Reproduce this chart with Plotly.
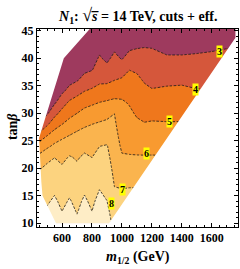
import numpy as np
import plotly.graph_objects as go

# ---------------- data ----------------
m_half = [430, 500, 550, 600, 650, 700, 750, 800, 850, 900, 950, 1000,
          1050, 1100, 1150, 1200, 1300, 1400, 1500, 1600, 1700, 1780]
tan_beta = [10, 12, 14, 16, 18, 20, 22, 24, 26, 28, 30, 32, 34, 36, 38, 40, 42, 44, 46]

# significance N1 per m_1/2 column (rows follow tan_beta)
sig_m430 = [8.68, 8.38, 8.08, 7.70, 7.30, 6.82, 6.11, 5.23, 4.01, 2.93, 2.63, 2.33, 2.10, 2.10, 2.10, 2.10, 2.10, 2.10, 2.10]
sig_m500 = [8.45, 8.15, 7.88, 7.65, 7.41, 7.18, 6.75, 5.80, 4.95, 3.83, 2.85, 2.55, 2.25, 2.10, 2.10, 2.10, 2.10, 2.10, 2.10]
sig_m550 = [8.75, 8.45, 8.15, 7.86, 7.57, 7.29, 6.98, 6.20, 5.40, 4.60, 3.67, 2.85, 2.55, 2.25, 2.10, 2.10, 2.10, 2.10, 2.10]
sig_m600 = [8.30, 8.02, 7.78, 7.56, 7.33, 7.11, 6.78, 6.33, 5.80, 4.98, 4.33, 3.50, 2.85, 2.55, 2.25, 2.10, 2.10, 2.10, 2.10]
sig_m650 = [8.68, 8.38, 8.08, 7.81, 7.56, 7.31, 7.06, 6.57, 5.99, 5.33, 4.71, 4.14, 3.25, 2.78, 2.48, 2.18, 2.10, 2.10, 2.10]
sig_m700 = [8.23, 7.95, 7.75, 7.55, 7.35, 7.15, 6.91, 6.55, 6.18, 5.67, 4.99, 4.39, 3.68, 2.93, 2.63, 2.33, 2.10, 2.10, 2.10]
sig_m750 = [8.75, 8.45, 8.15, 7.88, 7.63, 7.38, 7.13, 6.78, 6.33, 5.86, 5.29, 4.67, 3.99, 3.29, 2.82, 2.52, 2.22, 2.10, 2.10]
sig_m800 = [8.30, 8.02, 7.80, 7.60, 7.40, 7.20, 6.99, 6.67, 6.33, 5.99, 5.43, 4.83, 4.17, 3.50, 2.93, 2.63, 2.33, 2.10, 2.10]
sig_m850 = [8.90, 8.60, 8.30, 8.01, 7.75, 7.50, 7.25, 6.99, 6.56, 6.11, 5.57, 4.99, 4.33, 3.82, 3.45, 3.09, 2.78, 2.48, 2.18]
sig_m900 = [8.60, 8.30, 8.01, 7.81, 7.62, 7.43, 7.24, 7.05, 6.67, 6.22, 5.70, 5.09, 4.43, 3.80, 3.23, 2.82, 2.52, 2.22, 2.10]
sig_m950 = [7.60, 7.42, 7.23, 7.05, 6.89, 6.74, 6.59, 6.44, 6.30, 6.15, 5.99, 5.20, 4.57, 3.99, 3.60, 3.20, 2.85, 2.55, 2.25]
sig_m1000 = [8.15, 7.81, 7.42, 7.04, 6.71, 6.40, 6.08, 5.86, 5.67, 5.48, 5.29, 5.10, 4.71, 4.14, 3.50, 2.93, 2.63, 2.33, 2.10]
sig_m1050 = [8.54, 8.24, 7.85, 7.08, 6.71, 6.39, 6.06, 5.82, 5.60, 5.38, 5.16, 4.92, 4.61, 4.30, 3.97, 3.32, 2.85, 2.55, 2.25]
sig_m1100 = [8.54, 8.24, 7.85, 7.08, 6.71, 6.39, 6.06, 5.76, 5.46, 5.16, 4.89, 4.65, 4.42, 4.18, 3.88, 3.39, 2.94, 2.64, 2.34]
sig_m1150 = [8.54, 8.24, 7.85, 7.08, 6.71, 6.39, 6.06, 5.73, 5.39, 5.05, 4.76, 4.49, 4.21, 3.92, 3.62, 3.31, 2.99, 2.70, 2.40]
sig_m1200 = [8.54, 8.24, 7.85, 7.08, 6.71, 6.39, 6.06, 5.74, 5.42, 5.10, 4.76, 4.41, 4.07, 3.78, 3.51, 3.24, 2.97, 2.67, 2.37]
sig_m1300 = [8.54, 8.24, 7.85, 7.08, 6.71, 6.39, 6.06, 5.73, 5.40, 5.07, 4.76, 4.45, 4.15, 3.82, 3.45, 3.09, 2.78, 2.48, 2.18]
sig_m1400 = [8.54, 8.24, 7.85, 7.08, 6.71, 6.39, 6.06, 5.73, 5.40, 5.07, 4.76, 4.47, 4.18, 3.85, 3.47, 3.09, 2.78, 2.48, 2.18]
sig_m1500 = [8.54, 8.24, 7.85, 7.08, 6.71, 6.39, 6.06, 5.73, 5.40, 5.07, 4.73, 4.40, 4.07, 3.75, 3.44, 3.13, 2.82, 2.52, 2.22]
sig_m1600 = [8.54, 8.24, 7.85, 7.08, 6.71, 6.39, 6.06, 5.73, 5.40, 5.07, 4.73, 4.40, 4.07, 3.76, 3.47, 3.18, 2.88, 2.58, 2.28]
sig_m1700 = [8.54, 8.24, 7.85, 7.08, 6.71, 6.39, 6.06, 5.73, 5.40, 5.07, 4.74, 4.41, 4.08, 3.79, 3.51, 3.24, 2.96, 2.66, 2.36]
sig_m1780 = [8.54, 8.24, 7.85, 7.08, 6.71, 6.39, 6.06, 5.73, 5.40, 5.07, 4.74, 4.41, 4.08, 3.80, 3.53, 3.27, 3.01, 2.70, 2.40]

# boundary of the scanned parameter region
domain_m = [447, 452, 462, 470, 560, 914, 1758, 1758, 785, 612]
domain_tan = [25.5, 21.8, 17.5, 15.0, 10.0, 10.0, 43.7, 45.3, 45.3, 40.0]

# contour levels and their labels
level_text = ["3", "4", "5", "6", "7", "8"]
label_m = [1652, 1493, 1315, 1167, 1006, 933]
label_tan = [41.2, 34.3, 28.4, 22.6, 16.2, 13.6]

x_ticks = [600, 800, 1000, 1200, 1400, 1600]
y_ticks = [10, 15, 20, 25, 30, 35, 40, 45]
x_range = [433, 1775]
y_range = [9.3, 45.3]

band_colors = ["#9E3A5E", "#D5573B", "#EF771C", "#F89A30", "#FAB44E", "#FCD37F", "#FEEDC6"]

# ---------------- figure ----------------
columns = [sig_m430, sig_m500, sig_m550, sig_m600, sig_m650, sig_m700, sig_m750,
           sig_m800, sig_m850, sig_m900, sig_m950, sig_m1000, sig_m1050, sig_m1100,
           sig_m1150, sig_m1200, sig_m1300, sig_m1400, sig_m1500, sig_m1600,
           sig_m1700, sig_m1780]
z = np.array(columns).T

c = band_colors
cscale = [[0, c[0]], [1/6, c[0]], [1/6, c[1]], [2/6, c[1]], [2/6, c[2]], [3/6, c[2]],
          [3/6, c[3]], [4/6, c[3]], [4/6, c[4]], [5/6, c[4]], [5/6, c[5]], [0.95, c[5]],
          [0.95, c[6]], [1, c[6]]]

fig = go.Figure()
fig.add_trace(go.Contour(
    x=m_half, y=tan_beta, z=z,
    autocontour=False,
    contours=dict(start=3, end=8, size=1, coloring="fill", showlines=True),
    colorscale=cscale, showscale=False,
    line=dict(color="#1a1a1a", width=0.8, dash="2.5px,1.5px", smoothing=0),
    hoverinfo="skip",
))

# white mask outside the scanned region (rectangle with a hole)
dm = domain_m[::-1]
dt = domain_tan[::-1]
mask_x = [x_range[0], x_range[1], x_range[1], x_range[0], x_range[0]] + dm + [dm[0], x_range[0]]
mask_y = [y_range[0], y_range[0], y_range[1], y_range[1], y_range[0]] + dt + [dt[0], y_range[0]]
fig.add_trace(go.Scatter(x=mask_x, y=mask_y, mode="lines", fill="toself",
                         fillcolor="white", line=dict(width=0, color="white"),
                         hoverinfo="skip"))

serif = "Liberation Serif"
for t, lm, lt in zip(level_text, label_m, label_tan):
    fig.add_annotation(x=lm, y=lt, text="<b>%s</b>" % t, showarrow=False,
                       bgcolor="#FFFF00", borderpad=0,
                       font=dict(family=serif, size=10, color="black"))

axis_common = dict(ticks="inside", ticklen=4, tickwidth=0.8, tickcolor="black",
                   mirror="allticks", showline=True, linecolor="black", linewidth=1,
                   showgrid=False, zeroline=False,
                   tickfont=dict(family=serif, size=12, color="black", weight="bold"))

fig.update_xaxes(range=x_range, tickvals=x_ticks, **axis_common,
                 minor=dict(ticks="inside", ticklen=2, dtick=50, tick0=0,
                            tickcolor="black", tickwidth=0.6, showgrid=False))
fig.update_yaxes(range=y_range, tickvals=y_ticks, **axis_common,
                 minor=dict(ticks="inside", ticklen=2, dtick=1, tick0=0,
                            tickcolor="black", tickwidth=0.6, showgrid=False))

fig.add_annotation(xref="paper", yref="paper", x=0.5, y=1, yshift=14,
                   xanchor="center", yanchor="middle", showarrow=False,
                   text="<b><i>N</i><sub>1</sub>: <span style='font-size:18px'>√</span><i>s̅</i> = 14 TeV, cuts + eff.</b>",
                   font=dict(family=serif, size=14, color="black"))
fig.add_annotation(xref="paper", yref="paper", x=0.5, y=0, yshift=-30,
                   xanchor="center", yanchor="middle", showarrow=False,
                   text="<b><i>m</i><sub>1/2</sub> (GeV)</b>",
                   font=dict(family=serif, size=14, color="black"))
fig.add_annotation(xref="paper", yref="paper", x=-0.124, y=0.505,
                   xanchor="center", yanchor="middle",
                   textangle=-90, showarrow=False,
                   text="<b>tan<i>β</i></b>",
                   font=dict(family=serif, size=14, color="black"))

fig.update_layout(width=240, height=269, margin=dict(l=37, r=2, t=29, b=42),
                  paper_bgcolor="white", plot_bgcolor="white", showlegend=False)

fig.write_html("out.html", config={"displayModeBar": False},
               post_script="document.body.style.margin='0';")
